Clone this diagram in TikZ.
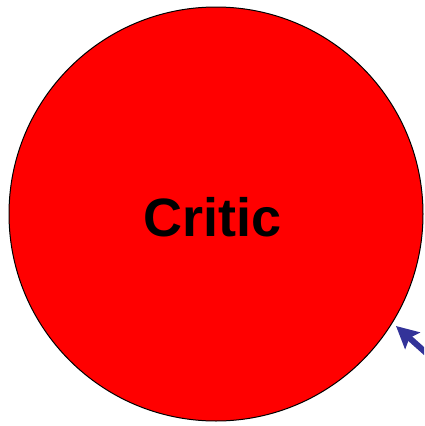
\documentclass[tikz,border=0pt]{standalone}
\usepackage{fontspec}
\setmainfont{Liberation Sans}
\usetikzlibrary{arrows.meta}
\definecolor{arrowblue}{RGB}{51,51,153}
\tikzset{
  crit/.style={circle, draw=black, line width=1pt, fill=red, minimum size=414pt, inner sep=0pt},
  critlabel/.style={font=\fontsize{54}{62}\selectfont\bfseries, inner sep=0pt, anchor=base},
  feed/.style={draw=arrowblue, line width=6pt, -{Stealth[length=22pt,width=22pt,inset=4pt]}}
}
\begin{document}
\begin{tikzpicture}[x=1pt,y=-1pt]
\useasboundingbox (0,0) rectangle (424,426);
\clip (0,0) rectangle (424,426);
\node[crit] (critic) at (216,214) {};
\node[critlabel] (label) at (212.5,236) {Critic};
\coordinate (src) at (452,376);
\coordinate (tip) at (396,326);
\draw[feed] (src) -- (tip);
\end{tikzpicture}
\end{document}
